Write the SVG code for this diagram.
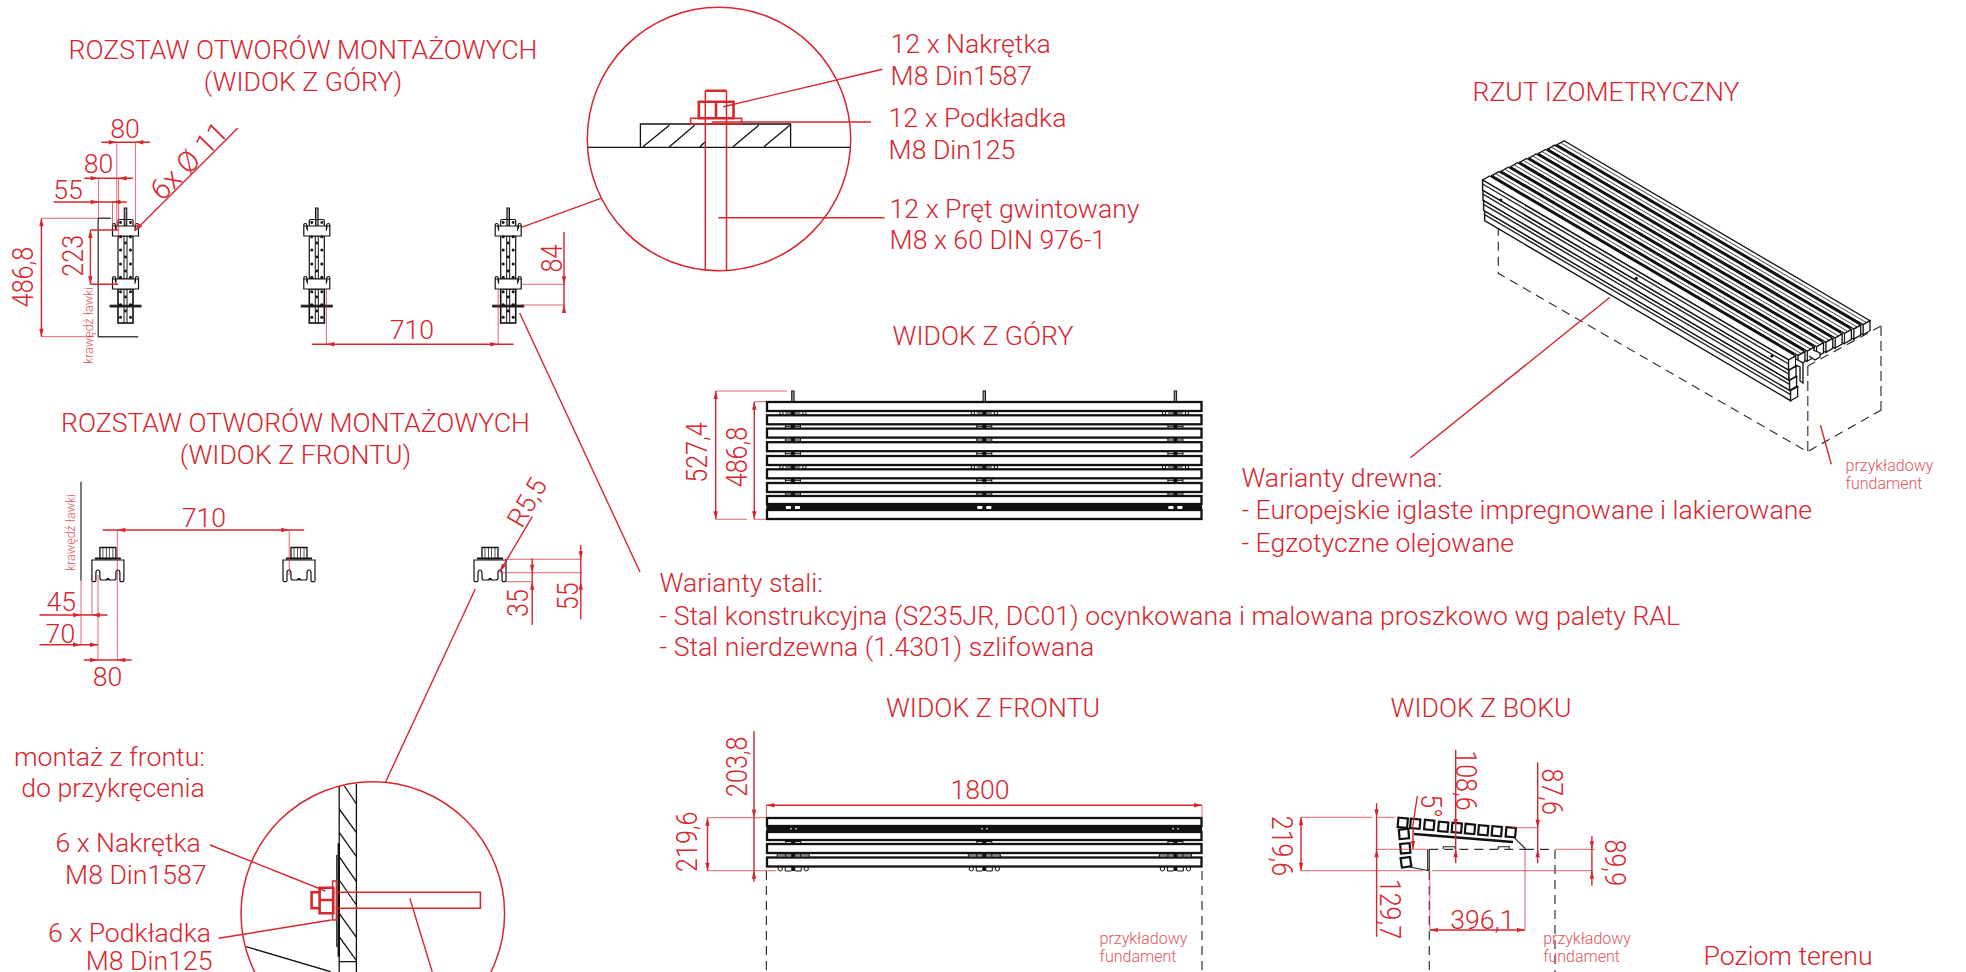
<svg xmlns="http://www.w3.org/2000/svg" width="1966" height="972" viewBox="0 0 1966 972">
<style>
text{font-family:"Roboto","Liberation Sans",sans-serif;font-weight:300;fill:#d8262f;font-size:26.65px}
.m{text-anchor:middle}.r{text-anchor:end}
.s{font-size:16px;fill:#e2555c}
.d,.e,.c,.l{fill:none;stroke:#d8262f}
.d{stroke-width:1.4}.e{stroke-width:1;opacity:.7}.c{stroke-width:1.5}.l{stroke-width:1.4}
.h{stroke:#d8262f;stroke-width:2.6;fill:none}
.k,.k *{fill:none;stroke:#111;stroke-width:1.3}
.b{fill:#111;stroke:none}
.f{fill:#fff;stroke:#111;stroke-width:2.3}
.x{fill:none;stroke:#333;stroke-width:1.2;stroke-dasharray:9 6}
.y{fill:none;stroke:#666;stroke-width:1.6;stroke-dasharray:10 5}
.g{fill:none;stroke:#444;stroke-width:1.4}
.sq{fill:#fff;stroke:#111;stroke-width:2.2}
</style>
<defs>
<path id="a" d="M0 0L-8-2.2V2.2Z" fill="#d8262f"/>
<g id="pl">
<path d="M-13 236V226H13V236ZM-13 231V225Q-13 223.5-11.5 223.5Q-10 223.5-10 225V229M13 231V225Q13 223.5 11.5 223.5Q10 223.5 10 225V229" fill="#fff" stroke="#111" stroke-width="1.2"/>
<path d="M-9.5 231V226M9.5 231V226" stroke="#111" stroke-width="1"/>
</g>
<g id="tb">
<rect x="-1.3" y="208" width="2.6" height="18" fill="#999" stroke="#111" stroke-width="1"/>
<path d="M-7.5 226V221Q-7.5 219.5-6 219.5H6Q7.5 219.5 7.5 221V226" fill="none" stroke="#111" stroke-width="1.2"/>
<rect x="-7.5" y="236" width="15" height="43" fill="#fff" stroke="#111" stroke-width="1.2"/>
<rect x="-7.5" y="289" width="15" height="34" fill="#fff" stroke="#111" stroke-width="1.6"/>
<path d="M-1.5 236V279M1.5 236V279M-1.5 289V323M1.5 289V323" stroke="#111" stroke-width="1"/>
<use href="#pl"/>
<use href="#pl" y="53"/>
<rect x="-16" y="304.7" width="32" height="2.8" fill="#222"/>
<g class="b"><circle cx="-5" cy="222.5" r="1.4"/><circle cx="5" cy="222.5" r="1.4"/><circle cx="-5" cy="236.7" r="1.5"/><circle cx="5" cy="236.7" r="1.5"/><circle cx="-5" cy="250" r="1.5"/><circle cx="5" cy="250" r="1.5"/><circle cx="-5" cy="264" r="1.5"/><circle cx="5" cy="264" r="1.5"/><circle cx="-5" cy="277.3" r="1.5"/><circle cx="5" cy="277.3" r="1.5"/><circle cx="-5" cy="291.7" r="1.5"/><circle cx="5" cy="291.7" r="1.5"/><circle cx="-5" cy="305" r="1.7"/><circle cx="5" cy="305" r="1.7"/><circle cx="-5" cy="317.3" r="1.5"/><circle cx="5" cy="317.3" r="1.5"/><circle cy="243" r="1.4"/><circle cy="257" r="1.4"/><circle cy="271" r="1.4"/><circle cy="297" r="1.4"/><circle cy="311" r="1.4"/></g>
</g>
<g id="fb">
<path d="M-8 559V547.5H8V559" fill="none" stroke="#111" stroke-width="1.3"/>
<path d="M-1.5 548V562M1.5 548V562M-5 548V559M5 548V559" stroke="#444" stroke-width=".9"/>
<path d="M-13 558.5H13" stroke="#111" stroke-width="2"/>
<path d="M-16 560H16V580.5Q16 581.7 14.5 581.7H13Q12 581.7 12 580V573Q12 570 10 570Q8 570 8 573V578Q8 580 6 580H3Q1 580 0 579Q-1 580-3 580H-6Q-8 580-8 578V573Q-8 570-10 570Q-12 570-12 573V580Q-12 581.7-13 581.7H-14.5Q-16 581.7-16 580.5Z" fill="#fff" stroke="#111" stroke-width="1.2"/>
<circle cy="579" r="1.3" class="b"/>
</g>
<g id="tvb">
<rect x="-1.2" y="391" width="2.4" height="10.5" fill="#999" stroke="#111" stroke-width="1"/>
<g stroke="#111" fill="none" stroke-width="1"><path d="M-13 411.5V414.5H-10V411.5M10 411.5V414.5H13V411.5M-7.5 413H7.5"/><path d="M-7.5 424.5V428M7.5 424.5V428M-7.5 426.3H7.5"/><path d="M-7.5 438V442M7.5 438V442M-7.5 440H7.5"/><path d="M-7.5 451.5V455.5M7.5 451.5V455.5M-7.5 453.7H7.5"/><path d="M-13 465.5V468.5H-10V465.5M10 465.5V468.5H13V465.5M-7.5 467H7.5"/><path d="M-7.5 478.5V482.5M7.5 478.5V482.5M-7.5 480.3H7.5"/><path d="M-7.5 492V495.5M7.5 492V495.5M-7.5 494H7.5"/></g>
<g class="b"><rect x="-2" y="411" width="4" height="4"/><rect x="-2" y="424.3" width="4" height="4"/><rect x="-2" y="438" width="4" height="4"/><rect x="-2" y="451.7" width="4" height="4"/><rect x="-2" y="465" width="4" height="4"/><rect x="-2" y="478.3" width="4" height="4"/><rect x="-2" y="492" width="4" height="3.7"/></g>
<rect x="-7" y="506" width="5" height="3" fill="#fff"/><rect x="2" y="506" width="5" height="3" fill="#fff"/>
</g>
<g id="fvb">
<g stroke="#111" fill="none" stroke-width="1"><path d="M-7.5 840V843.7M7.5 840V843.7M-7.5 841.5H7.5"/><path d="M-16 853.5V857M-7.5 853.5V857M7.5 853.5V857M16 853.5V857M-16 855H16"/><path d="M-15 867V870Q-13 872-11 870V867M-8 867V871H-2M2 871H8V867M11 867V870Q13 872 15 870V867"/></g>
<g class="b"><rect x="-2" y="840.3" width="4" height="3.4"/><rect x="-2" y="853.5" width="4" height="3.5"/><rect x="-2" y="867" width="4" height="4"/></g>
<rect x="-3" y="828" width="1.4" height="1.4" fill="#fff"/><rect x="2" y="828" width="1.4" height="1.4" fill="#fff"/>
</g>
<g id="isl">
<path d="M0 0L7-4L313 176L306 180Z" fill="#fff" stroke="#111" stroke-width="1.3"/>
<path d="M3.5-2L309.5 178" stroke="#333" stroke-width=".9" fill="none"/>
<path d="M0 0L306 180V190L0 10Z" fill="#1c1c1c" stroke="#111" stroke-width="1.3"/>
<path d="M306 180L313 176V186L306 190Z" fill="#fff" stroke="#111" stroke-width="1.3"/>
<path d="M302 177.7L306 180V190L302 187.7Z" fill="#fff" stroke="#111" stroke-width="1"/>
</g>
<g id="isr">
<path d="M0 0L7-4L313 176L306 180Z" fill="#fff" stroke="#111" stroke-width="1.3"/>
<path d="M0 0L306 180V190L0 10Z" fill="#fff" stroke="#111" stroke-width="1.4"/>
<path d="M306 180L313 176V186L306 190Z" fill="#fff" stroke="#111" stroke-width="1.3"/>
<path d="M0 4L306 184" stroke="#222" stroke-width="1.4" fill="none"/>
</g>
</defs>

<g id="title-top"><text class="m" x="303" y="59">ROZSTAW OTWORÓW MONTAŻOWYCH</text><text class="m" x="303" y="91">(WIDOK Z GÓRY)</text></g>
<g id="title-front-holes"><text class="m" x="295.5" y="431.7">ROZSTAW OTWORÓW MONTAŻOWYCH</text><text class="m" x="295.5" y="464">(WIDOK Z FRONTU)</text></g>
<g id="title-iso"><text class="m" x="1606" y="101">RZUT IZOMETRYCZNY</text></g>
<g id="title-widok-gory"><text class="m" x="983" y="345">WIDOK Z GÓRY</text></g>
<g id="title-widok-frontu"><text class="m" x="993" y="717">WIDOK Z FRONTU</text></g>
<g id="title-widok-boku"><text class="m" x="1481" y="717">WIDOK Z BOKU</text></g>

<g id="plan-holes-top">
<path class="g" d="M110.7 218.3H98.2V336.7H138.2"/>
<use href="#tb" x="125.5"/><use href="#tb" x="316.8"/><use href="#tb" x="508.2"/>
<text class="s" style="font-size:12.5px" text-anchor="middle" transform="translate(92.5 325.5) rotate(-90)">krawędź ławki</text>
</g>

<g id="plan-holes-front">
<path class="g" d="M81 481.7V580.7"/>
<use href="#fb" x="107.9"/><use href="#fb" x="299"/><use href="#fb" x="490"/>
<text class="s" style="font-size:12.5px" text-anchor="middle" transform="translate(75 532.5) rotate(-90)">krawędź ławki</text>
</g>

<g id="dims-top">
<path class="e" d="M116.8 142V230M135.4 142V230M98.6 178V218M118.6 178V240M112.5 202V228M41.4 218.3H98M41.4 336.7H94M326.4 290V344.3M498.2 290V344.3M521 284.3H565M521 305H565"/>
<path class="d" d="M101.4 142.3H150M84.3 178.3H132.9M53.6 202H126.8M41.4 218.3V336.7M90.4 230V284.3M90.4 230H118M90.4 284.3H118M312 344.3H513.6M564 232V313"/>
<use href="#a" transform="translate(116.8 142.3)"/><use href="#a" transform="translate(135.4 142.3) rotate(180)"/>
<use href="#a" transform="translate(98.6 178.3)"/><use href="#a" transform="translate(118.6 178.3) rotate(180)"/>
<use href="#a" transform="translate(98.6 202)"/><use href="#a" transform="translate(112.5 202) rotate(180)"/>
<use href="#a" transform="translate(41.4 218.3) rotate(-90)"/><use href="#a" transform="translate(41.4 336.7) rotate(90)"/>
<use href="#a" transform="translate(90.4 230) rotate(-90)"/><use href="#a" transform="translate(90.4 284.3) rotate(90)"/>
<use href="#a" transform="translate(326.4 344.3) rotate(180)"/><use href="#a" transform="translate(498.2 344.3)"/>
<use href="#a" transform="translate(564 284.3) rotate(90)"/><use href="#a" transform="translate(564 305) rotate(-90)"/>
<path class="d" d="M237.9 128L135 230.7"/><use href="#a" transform="translate(135 230.7) rotate(135)"/>
<text class="m" x="125" y="137.7">80</text><text class="m" x="98.6" y="172.7">80</text><text class="m" x="68" y="199">55</text>
<text class="m" transform="translate(33 277) rotate(-90) scale(.94 1.12)">486,8</text>
<text class="m" transform="translate(82.9 255.8) rotate(-90) scale(.94 1.12)">223</text>
<text class="m" x="411.8" y="339.3">710</text>
<text class="m" transform="translate(562 258.5) rotate(-90) scale(.94 1.12)">84</text>
<text class="m" style="font-size:29px" transform="translate(196 168) rotate(-45)">6x Ø 11</text>
</g>

<g id="dims-front">
<path class="e" d="M81 581V645M92 575V615M98 575V660M117.3 530V660M289.2 530V575M505 559.3H581.6M500 572.7H581.6M506 581.7H532"/>
<path class="d" d="M102.7 530H304.2M39.5 615H107.5M39.5 644.7H98M83.8 660H131.6M532.2 558.3V625M580.8 545V619.3M532.2 516.7L499.8 571.7"/>
<use href="#a" transform="translate(117.3 530) rotate(180)"/><use href="#a" transform="translate(289.2 530)"/>
<use href="#a" transform="translate(81 615)"/><use href="#a" transform="translate(92 615) rotate(180)"/>
<use href="#a" transform="translate(81 644.7)"/><use href="#a" transform="translate(98 644.7)"/>
<use href="#a" transform="translate(98 660)"/><use href="#a" transform="translate(117.3 660) rotate(180)"/>
<use href="#a" transform="translate(532.2 572.7) rotate(90)"/><use href="#a" transform="translate(532.2 581.7) rotate(-90)"/>
<use href="#a" transform="translate(580.8 559.3) rotate(90)"/><use href="#a" transform="translate(580.8 581.7) rotate(-90)"/>
<use href="#a" transform="translate(499.8 571.7) rotate(120)"/>
<text class="m" x="203.9" y="526.7">710</text><text class="m" x="61.2" y="610.7">45</text><text class="m" x="60.4" y="643.3">70</text><text class="m" x="107.5" y="685.7">80</text>
<text class="m" transform="translate(527.5 603) rotate(-90) scale(.94 1.12)">35</text>
<text class="m" transform="translate(577.6 596.3) rotate(-90) scale(.94 1.12)">55</text>
<text class="m" transform="translate(535 507) rotate(-60)">R5,5</text>
</g>

<g id="detail-top">
<g class="k"><path d="M587.3 147.3H850.6M640.4 147.3V124H790.6V147.3M642.9 146.7L669.4 125.3M669.4 146.7L694.7 125.3M700 146.7L705.3 141.7M733 146.7L758.8 125.3M764 146.7L789.8 125.3"/></g>
<circle class="c" cx="719" cy="139" r="131.7"/>
<path class="c" d="M705.3 270V90.7M726.5 270V90.7"/>
<path class="h" d="M705.3 90.7H726.5M698.8 101.7H733.5V118.3H698.8ZM716 101.7V118.3"/>
<rect class="c" x="690.6" y="118.3" width="51" height="5.7"/>
<path class="l" d="M882.4 69.3L723.3 106.7M871 122H711.8M884.5 217.7H718.4M521.4 227.3L600.8 198.3"/>
<text x="890.6" y="52.7">12 x Nakrętka</text><text x="890.6" y="85">M8 Din1587</text>
<text x="888.6" y="126.7">12 x Podkładka</text><text x="888.6" y="158.7">M8 Din125</text>
<text x="889.6" y="217.7">12 x Pręt gwintowany</text><text x="889.6" y="249.3">M8 x 60 DIN 976-1</text>
</g>

<g id="view-top">
<rect class="f" x="767" y="402" width="434.5" height="9"/><rect class="f" x="767" y="415.3" width="434.5" height="9"/><rect class="f" x="767" y="428.6" width="434.5" height="9"/><rect class="f" x="767" y="442.2" width="434.5" height="9"/><rect class="f" x="767" y="456" width="434.5" height="9"/><rect class="f" x="767" y="469.3" width="434.5" height="9"/><rect class="f" x="767" y="483" width="434.5" height="9"/><rect class="f" x="767" y="496" width="434.5" height="8"/>
<rect class="b" x="766.4" y="504" width="435.6" height="6.5"/>
<rect class="f" x="767" y="510" width="434.5" height="9"/>
<use href="#tvb" x="792.9"/><use href="#tvb" x="984.3"/><use href="#tvb" x="1175.4"/>
<path class="e" d="M715.7 391H787M715.7 519.3H746.8M754.3 401.7H766M754.3 519.3H766"/>
<path class="d" d="M715.7 391V519.3M754.3 401.7V519.3"/>
<use href="#a" transform="translate(715.7 391) rotate(-90)"/><use href="#a" transform="translate(715.7 519.3) rotate(90)"/><use href="#a" transform="translate(754.3 401.7) rotate(-90)"/><use href="#a" transform="translate(754.3 519.3) rotate(90)"/>
<text class="m" transform="translate(706.8 452.5) rotate(-90) scale(.94 1.12)">527,4</text>
<text class="m" transform="translate(746.8 457) rotate(-90) scale(.94 1.12)">486,8</text>
</g>

<g id="view-iso">
<path class="x" d="M1498.3 226.7V273.3L1807.5 451.7L1881.3 410"/>
<path class="x" d="M1881 326L1807.7 366"/>
<path class="y" d="M1807.7 366V451.7M1881 326V410"/>
<use href="#isr" x="1484.6" y="210.7"/><use href="#isr" x="1483.6" y="200.4"/><use href="#isr" x="1483" y="190.2"/>
<use href="#isl" x="1557" y="144.7"/><use href="#isl" x="1547.7" y="149.1"/><use href="#isl" x="1538.4" y="153.5"/><use href="#isl" x="1529.1" y="158"/><use href="#isl" x="1519.8" y="162.4"/><use href="#isl" x="1510.5" y="166.8"/><use href="#isl" x="1501.2" y="171.2"/><use href="#isl" x="1491.9" y="175.6"/><use href="#isr" x="1482.6" y="180"/>
<path d="M1796 359L1803 363V383L1800 381V367L1796 365M1813 350L1820 353V357L1815 360L1809 356" fill="#fff" stroke="#111" stroke-width="1.3"/>
<circle class="b" cx="1636.3" cy="278.3" r="1.6"/><circle class="b" cx="1771.9" cy="356" r="1.6"/><circle class="b" cx="1500.7" cy="200" r="1.6"/>
<path class="l" d="M1610 297.3L1410.3 457.7M1820.4 425L1831.3 464.3"/>
<text class="s" x="1845.6" y="470.7">przykładowy</text><text class="s" x="1845.6" y="489">fundament</text>
</g>

<g id="text-wood"><text x="1241.4" y="487">Warianty drewna:</text><text x="1241.4" y="519">- Europejskie iglaste impregnowane i lakierowane</text><text x="1241.4" y="552">- Egzotyczne olejowane</text></g>
<g id="text-steel"><text x="659.6" y="592">Warianty stali:</text><text x="659.6" y="624.5">- Stal konstrukcyjna (S235JR, DC01) ocynkowana i malowana proszkowo wg palety RAL</text><text x="659.6" y="656">- Stal nierdzewna (1.4301) szlifowana</text></g>
<path id="leader-steel" class="l" d="M519.7 313L640 572"/>

<g id="detail-front">
<path class="l" d="M475.3 589L385.7 781.7"/>
<g class="k"><path d="M339.2 786V972M356.4 784V972M344.4 786L356.4 804M339.2 809L356.4 832.7M339.2 832.3L356.4 856.7M339.2 856.7L356.4 881.7M339.2 880L356.4 905M339.2 913.3L356.4 937.3M339.2 936.7L356.4 960.7M339.2 961.7H356.4M246.2 946.7L330.6 971.7"/></g>
<path d="M338.8 843.3V956.7" stroke="#111" stroke-width="2.4"/><path d="M336.8 855V947" stroke="#111" stroke-width="1.2"/>
<circle class="c" cx="372.8" cy="913.5" r="131.8"/>
<path class="h" style="stroke-width:1.6" d="M335.7 892.3H480.4V908.3H335.7"/>
<path class="h" d="M319.6 887.7H333.3V913.3H319.6ZM319.6 900H333.3M319.6 892.3H311.6V908.3H319.6"/>
<rect class="c" x="332.6" y="881" width="3.8" height="39"/>
<path class="l" d="M210 845L325.4 891M218.7 938.3L331.3 920M409.8 898.3L432.2 971.7"/>
<g><text class="r" x="204.9" y="765.7">montaż z frontu:</text><text class="r" x="204.9" y="797.3">do przykręcenia</text><text class="r" x="200.8" y="852.3">6 x Nakrętka</text><text class="r" x="206.6" y="884">M8 Din1587</text><text class="r" x="211" y="941.7">6 x Podkładka</text><text class="r" x="212.5" y="970">M8 Din125</text></g>
</g>

<g id="view-front">
<path class="x" d="M766.4 871V972M1202 871V972"/>
<rect class="f" x="767" y="818" width="434.5" height="8"/><rect class="b" x="766.4" y="826" width="435.6" height="6"/><rect class="f" x="767" y="832" width="434.5" height="8"/><rect class="f" x="767" y="844" width="434.5" height="9"/><rect class="f" x="767" y="857.5" width="434.5" height="9"/>
<use href="#fvb" x="793.2"/><use href="#fvb" x="984.3"/><use href="#fvb" x="1175.4"/>
<path class="e" d="M707.5 817.7H766M707.5 870.7H776M1202 805.3V818M766.4 805.3V818"/>
<path class="d" d="M766.4 805.3H1202M754 731V881.7M707.5 817.7V870.7"/>
<use href="#a" transform="translate(766.4 805.3) rotate(180)"/><use href="#a" transform="translate(1202 805.3)"/>
<use href="#a" transform="translate(754 817.7) rotate(90)"/><use href="#a" transform="translate(754 870.7) rotate(-90)"/>
<use href="#a" transform="translate(707.5 817.7) rotate(-90)"/><use href="#a" transform="translate(707.5 870.7) rotate(90)"/>
<text class="m" x="980" y="799.3">1800</text>
<text class="m" transform="translate(746.8 766.7) rotate(-90) scale(.94 1.12)">203,8</text>
<text class="m" transform="translate(696.8 841.7) rotate(-90) scale(.94 1.12)">219,6</text>
<text class="s" x="1099.6" y="944">przykładowy</text><text class="s" x="1099.6" y="961.7">fundament</text>
</g>

<g id="view-side">
<path class="x" d="M1429.3 871V972M1555 850V972M1525 849.3H1555M1429.3 849.3H1525"/>
<g transform="rotate(5 1402.7 822.7)"><rect class="sq" x="1398" y="818" width="9.5" height="9.5"/></g>
<g transform="rotate(-5 1404 834)"><rect class="sq" x="1399.2" y="829.2" width="9.5" height="9.5"/></g>
<g transform="rotate(-5 1405 848.3)"><rect class="sq" x="1400.5" y="843.6" width="9.5" height="9.5"/></g>
<g transform="rotate(-8 1406 862.3)"><rect class="sq" x="1401.2" y="857.5" width="9.5" height="9.5"/></g>
<path d="M1414 834L1513 842" stroke="#111" stroke-width="2.4" fill="none"/>
<rect x="1411.5" y="818.5" width="3.5" height="10" fill="#111"/>
<g transform="rotate(5 1415 823.3)"><rect class="sq" x="1410.5" y="819" width="9.5" height="9.5"/></g>
<g transform="rotate(5 1429.3 825)"><rect class="sq" x="1424.5" y="820.2" width="9.5" height="9.5"/></g>
<g transform="rotate(5 1443.3 826.7)"><rect class="sq" x="1438.5" y="822" width="9.5" height="9.5"/></g>
<g transform="rotate(5 1456.7 827.7)"><rect class="sq" x="1452" y="823" width="9.5" height="9.5"/></g>
<g transform="rotate(5 1470 829)"><rect class="sq" x="1465.2" y="824.2" width="9.5" height="9.5"/></g>
<g transform="rotate(5 1483.3 830.3)"><rect class="sq" x="1478.5" y="825.5" width="9.5" height="9.5"/></g>
<g transform="rotate(5 1496.7 831.3)"><rect class="sq" x="1492" y="826.5" width="9.5" height="9.5"/></g>
<g transform="rotate(5 1510.7 832.3)"><rect class="sq" x="1506" y="827.5" width="9.5" height="9.5"/></g>
<path d="M1513.3 836.7L1525 848.3V849.3M1427.7 849.3V870H1429.3V849.3M1410.7 867.3L1429.3 870.7" stroke="#222" stroke-width="1.1" fill="none"/>
<path d="M1443.3 849V846.7H1455V849M1498.3 849V846.7H1509.3V849" stroke="#222" stroke-width="1.1" fill="none"/>
<path class="e" d="M1301 817.3H1372M1378 817.3H1395M1301 870.7H1423M1432 870.7H1592.8M1375.6 849.3H1428M1555 849.3H1595M1512 827.7H1537.7M1429.8 871V930M1525 850V930"/>
<path class="d" d="M1301 817.3V870.7M1376.6 803.3V936.7M1455.7 750V863.3M1537.7 762.3V863.3M1591.9 836V885.7M1429.8 930H1525M1413 828V849M1417.3 796L1412.7 826.7"/>
<use href="#a" transform="translate(1301 817.3) rotate(-90)"/><use href="#a" transform="translate(1301 870.7) rotate(90)"/>
<use href="#a" transform="translate(1376.6 817.3) rotate(90)"/><use href="#a" transform="translate(1376.6 849.3) rotate(-90)"/>
<use href="#a" transform="translate(1455.7 827) rotate(90)"/><use href="#a" transform="translate(1455.7 849.3) rotate(-90)"/>
<use href="#a" transform="translate(1537.7 827.7) rotate(90)"/><use href="#a" transform="translate(1537.7 849.3) rotate(-90)"/>
<use href="#a" transform="translate(1591.9 849.3) rotate(90)"/><use href="#a" transform="translate(1591.9 870.7) rotate(-90)"/>
<use href="#a" transform="translate(1429.8 930) rotate(180)"/><use href="#a" transform="translate(1525 930)"/>
<use href="#a" transform="translate(1413 849) rotate(90)"/>
<text class="m" transform="translate(1272.4 846) rotate(90) scale(.94 1.12)">219,6</text>
<text class="m" transform="translate(1380.3 909) rotate(90) scale(.94 1.12)">129,7</text>
<text class="m" transform="translate(1420.6 806) rotate(90) scale(.94 1.12)">5°</text>
<text class="m" transform="translate(1456 780.5) rotate(90) scale(.94 1.12)">108,6</text>
<text class="m" transform="translate(1541.9 791.7) rotate(90) scale(.94 1.12)">87,6</text>
<text class="m" transform="translate(1604.8 862.8) rotate(90) scale(.94 1.12)">89,9</text>
<text class="m" x="1482.4" y="929">396,1</text>
<text class="s" x="1543.2" y="944">przykładowy</text><text class="s" x="1543.2" y="961.7">fundament</text>
</g>
<g id="ground-label"><text x="1703.5" y="965">Poziom terenu</text></g>
</svg>
